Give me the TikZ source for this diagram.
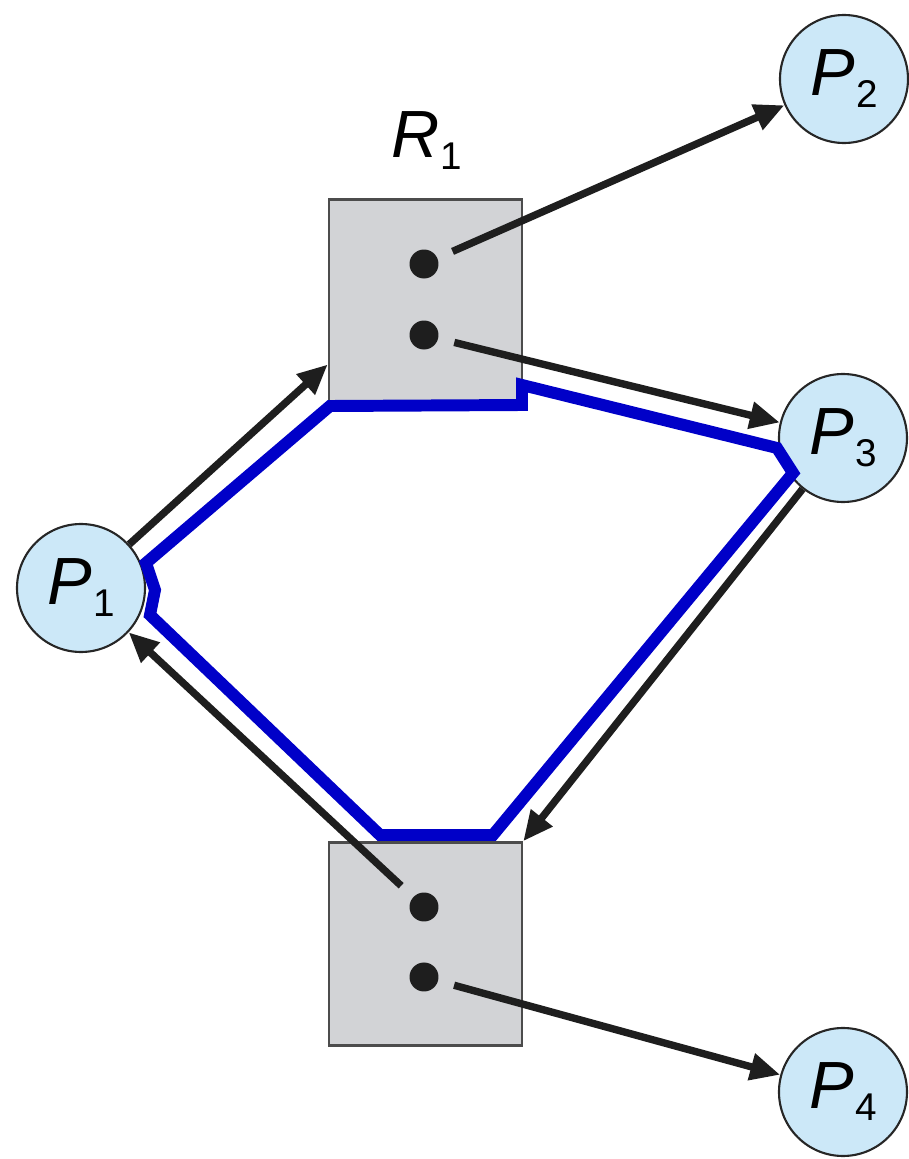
\documentclass[tikz,border=0pt]{standalone}
\usepackage{fontspec}
\setmainfont{Liberation Sans}
\usetikzlibrary{arrows.meta}
\definecolor{procfill}{RGB}{204,232,248}
\definecolor{resfill}{RGB}{210,211,214}
\definecolor{loopblue}{RGB}{0,0,200}
\definecolor{arrblack}{RGB}{30,30,30}
\newcommand{\sublabel}[2]{\textit{#1}\hspace{0.01cm}\raisebox{-0.12cm}{\fontsize{11}{12}\selectfont #2}}

\begin{document}
\begin{tikzpicture}[
  proc/.style={circle,draw=black!85,line width=0.6pt,fill=procfill,minimum size=1.28cm,inner sep=0pt},
  res/.style={rectangle,draw=black!70,line width=0.7pt,fill=resfill,minimum width=1.93cm,minimum height=2.03cm,inner sep=0pt},
  dot/.style={circle,fill=arrblack,minimum size=0.29cm,inner sep=0pt},
  arr/.style={arrblack,line width=2.1pt,-{Triangle[length=0.3cm,width=0.26cm]}},
  waitloop/.style={loopblue,line width=3.4pt,line join=miter},
  every node/.style={font=\fontsize{19}{21}\selectfont}
]
  \useasboundingbox (0,0) rectangle (9.08,11.59);
  % resources
  \node[res] (r1) at (4.255,8.58) {};
  \node[res] (r2) at (4.255,2.15) {};
  \node (r1lbl) at (4.27,10.18) {\sublabel{R}{1}};
  \node[dot] (r1a) at (4.24,8.95) {};
  \node[dot] (r1b) at (4.24,8.24) {};
  \node[dot] (r2a) at (4.24,2.52) {};
  \node[dot] (r2b) at (4.24,1.82) {};
  % processes
  \node[proc] (p1) at (0.81,5.71) {\sublabel{P}{1}};
  \node[proc] (p2) at (8.44,10.80) {\sublabel{P}{2}};
  \node[proc] (p3) at (8.43,7.21) {\sublabel{P}{3}};
  \node[proc] (p4) at (8.43,0.67) {\sublabel{P}{4}};
  % edges
  \draw[arr] (p1) -- (r1.213);
  \draw[arr,shorten <=0.16cm] (r1a) -- (p2);
  \draw[arr,shorten <=0.16cm] (r1b) -- (p3);
  \draw[arr] (p3) -- (r2.north east);
  \draw[arr,shorten <=0.16cm] (r2a) -- (p1);
  \draw[arr,shorten <=0.16cm] (r2b) -- (p4);
  % cycle
  \draw[waitloop] (3.30,7.53) -- (5.22,7.54) -- (5.22,7.74) -- (7.77,7.11)
    -- (7.93,6.86) -- (4.93,3.24) -- (3.80,3.24) -- (1.50,5.44)
    -- (1.55,5.69) -- (1.46,5.96) -- cycle;
\end{tikzpicture}
\end{document}
